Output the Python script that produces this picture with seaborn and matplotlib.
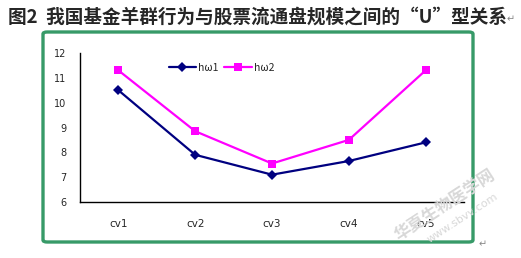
import numpy as np
import pandas as pd
import seaborn as sns
import matplotlib.pyplot as plt
from matplotlib.patches import FancyBboxPatch

# data
categories = ['cv1', 'cv2', 'cv3', 'cv4', 'cv5']
hw1 = [10.5, 7.9, 7.1, 7.65, 8.4]
hw2 = [11.3, 8.85, 7.55, 8.5, 11.3]
yticks = [6, 7, 8, 9, 10, 11, 12]

df = pd.DataFrame({'cat': categories * 2,
                   'val': hw1 + hw2,
                   'series': ['hω1'] * 5 + ['hω2'] * 5})

sns.set_style('white')
plt.rcParams['font.family'] = ['Noto Sans CJK SC', 'DejaVu Sans']

W, H = 521, 258
fig = plt.figure(figsize=(W / 100, H / 100), dpi=100)

# green frame around the chart
frame = FancyBboxPatch((43 / W, 1 - 242 / H), 430 / W, 210 / H,
                       boxstyle='round,pad=0,rounding_size=0.008',
                       transform=fig.transFigure, fill=False,
                       edgecolor='#379a68', linewidth=2.4)
fig.patches.append(frame)

ax = fig.add_axes([80 / W, 56 / H, 384 / W, 149 / H])
sns.lineplot(data=df, x='cat', y='val', hue='series', style='series',
             markers={'hω1': 'D', 'hω2': 's'}, dashes=False,
             palette={'hω1': '#000080', 'hω2': '#ff00ff'},
             linewidth=1.6, markersize=5.5, markeredgewidth=0, ax=ax)

ax.set_xlim(-0.5, 4.5)
ax.set_ylim(6, 12)
ax.set_yticks(yticks)
ax.set_xticks(np.arange(-0.5, 5, 1), minor=False)
ax.set_xticklabels([])
ax.set_xticks(range(5), minor=True)
ax.set_xticklabels(categories, minor=True, fontsize=7.5, family='DejaVu Sans')
ax.set_yticklabels([str(t) for t in yticks], fontsize=7, family='DejaVu Sans')
ax.tick_params(axis='x', which='major', direction='in', length=4, width=1, color='black')
ax.tick_params(axis='x', which='minor', length=0, pad=12)
ax.tick_params(axis='y', direction='in', length=4, width=1, color='black', pad=10)
ax.set_xlabel('')
ax.set_ylabel('')
for s in ['top', 'right']:
    ax.spines[s].set_visible(False)
for s in ['left', 'bottom']:
    ax.spines[s].set_color('black')
    ax.spines[s].set_linewidth(1)

leg = ax.legend(loc='upper left', bbox_to_anchor=(0.22, 0.96), ncol=2,
                frameon=False, fontsize=7.5, handlelength=2.6,
                handletextpad=0.2, columnspacing=0.6, borderaxespad=0)

fig.text(8 / W, 1 - 17 / H, '图2  我国基金羊群行为与股票流通盘规模之间的“U”型关系',
         fontsize=13.4, fontweight='bold', va='center', ha='left')
fig.text(507 / W, 1 - 19 / H, '↵', fontsize=7, color='#888888',
         va='center', family='DejaVu Sans')
fig.text(479 / W, 1 - 244 / H, '↵', fontsize=7, color='#888888',
         va='center', family='DejaVu Sans')

# watermark
fig.text(445 / W, 1 - 205 / H, '华夏生物医学网', fontsize=12, color='#d8d8d8',
         rotation=33, ha='center', va='center', fontweight='bold')
fig.text(462 / W, 1 - 218 / H, 'www.sbvv.com', fontsize=8, color='#d8d8d8',
         rotation=33, ha='center', va='center', family='DejaVu Sans')

fig.savefig('out.png', dpi=100)
